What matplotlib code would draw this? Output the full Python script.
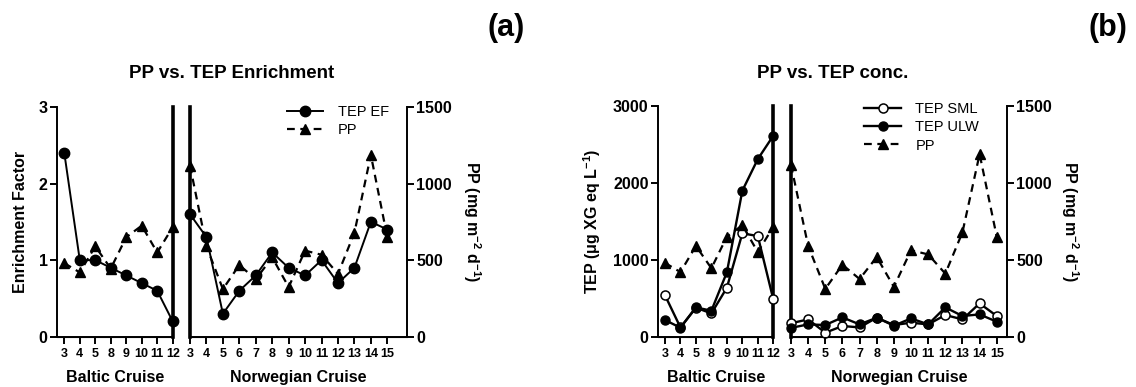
import matplotlib
matplotlib.use('Agg')
import matplotlib.pyplot as plt

plt.rcParams['font.family'] = ['Liberation Sans', 'DejaVu Sans']
plt.rcParams['mathtext.fontset'] = 'custom'
plt.rcParams['mathtext.rm'] = 'Liberation Sans:bold'
plt.rcParams['mathtext.bf'] = 'Liberation Sans:bold'
plt.rcParams['mathtext.it'] = 'Liberation Sans:bold'
plt.rcParams['mathtext.default'] = 'bf'

# ---------------- data ----------------
baltic_labels = ['3', '4', '5', '8', '9', '10', '11', '12']
norwegian_labels = ['3', '4', '5', '6', '7', '8', '9', '10', '11', '12', '13', '14', '15']

ef_baltic = [2.4, 1.0, 1.0, 0.9, 0.8, 0.7, 0.6, 0.2]
ef_norwegian = [1.6, 1.3, 0.3, 0.6, 0.8, 1.1, 0.9, 0.8, 1.0, 0.7, 0.9, 1.5, 1.4]

pp_baltic = [480, 420, 590, 445, 650, 725, 550, 715]
pp_norwegian = [1117, 590, 311, 468, 375, 518, 324, 562, 535, 410, 679, 1187, 650]

tep_sml_baltic = [540, 120, 377, 303, 637, 1344, 1309, 485]
tep_ulw_baltic = [217, 117, 381, 338, 837, 1899, 2310, 2614]
tep_sml_norwegian = [175, 225, 52, 139, 121, 247, 152, 182, 160, 282, 225, 433, 269]
tep_ulw_norwegian = [115, 160, 152, 251, 160, 247, 143, 238, 160, 381, 269, 290, 195]

# ---------------- figure ----------------
W, H = 1136, 387
fig = plt.figure(figsize=(W / 100, H / 100), dpi=100)


def px_axes(x0, x1, ytop, ybot):
    return fig.add_axes([x0 / W, (H - ybot) / H, (x1 - x0) / W, (ybot - ytop) / H])


TICKFS = 9
YTICKFS = 11.5
LABFS = 11.5
SPINE_W = 1.4
THICK_W = 2.6


def style_axis(ax, labels, xlim, left_spine, right_spine):
    ax.set_xlim(*xlim)
    ax.set_xticks(range(len(labels)))
    ax.set_xticklabels(labels, fontsize=TICKFS, fontweight='bold')
    ax.spines['top'].set_visible(False)
    ax.spines['bottom'].set_linewidth(SPINE_W)
    ax.tick_params(axis='x', direction='out', length=5, width=SPINE_W, pad=3)
    for side, mode in (('left', left_spine), ('right', right_spine)):
        sp = ax.spines[side]
        if mode == 'none':
            sp.set_visible(False)
        elif mode == 'thick':
            sp.set_linewidth(THICK_W)
        else:
            sp.set_linewidth(SPINE_W)


def panel(xb0, xb1, xn0, xn1, ytop, ybot, xlim_b, xlim_n, left_max, left_ticks,
          left_series, pp_b, pp_n, ylabel, title, legend_items,
          leg_anchor, panel_tag, tag_x, ylab_x, rlab_x):
    axb = px_axes(xb0, xb1, ytop, ybot)
    axn = px_axes(xn0, xn1, ytop, ybot)
    style_axis(axb, baltic_labels, xlim_b, 'normal', 'thick')
    style_axis(axn, norwegian_labels, xlim_n, 'thick', 'none')
    for ax in (axb, axn):
        ax.set_ylim(0, left_max)
    axb.set_yticks(left_ticks)
    axb.set_yticklabels([str(t) for t in left_ticks], fontsize=YTICKFS, fontweight='bold')
    axb.tick_params(axis='y', direction='out', length=5, width=SPINE_W, pad=2)
    axn.set_yticks([])

    handles = []
    for (vals_b, vals_n, kw) in left_series:
        axb.plot(range(len(vals_b)), vals_b, clip_on=False, zorder=5, **kw)
        h, = axn.plot(range(len(vals_n)), vals_n, clip_on=False, zorder=5, **kw)
        handles.append(h)

    ppkw = dict(color='black', lw=1.6, ls=(0, (3.5, 2.5)), marker='^', ms=7.5)
    tb = axb.twinx()
    tn = axn.twinx()
    for t in (tb, tn):
        t.set_ylim(0, 1500)
        t.spines['top'].set_visible(False)
        t.spines['left'].set_visible(False)
        t.patch.set_visible(False)
    tb.spines['right'].set_visible(False)
    tb.set_yticks([])
    tn.spines['right'].set_linewidth(SPINE_W)
    tn.set_yticks([0, 500, 1000, 1500])
    tn.set_yticklabels(['0', '500', '1000', '1500'], fontsize=YTICKFS, fontweight='bold')
    tn.tick_params(axis='y', direction='out', length=5, width=SPINE_W, pad=2)
    tb.plot(range(len(pp_b)), pp_b, clip_on=False, zorder=4, **ppkw)
    h, = tn.plot(range(len(pp_n)), pp_n, clip_on=False, zorder=4, **ppkw)
    handles.append(h)

    axb.set_xlabel('Baltic Cruise', fontsize=LABFS, fontweight='bold', labelpad=7)
    axn.set_xlabel('Norwegian Cruise', fontsize=LABFS, fontweight='bold', labelpad=7)

    fig.text(ylab_x / W, (H - (ytop + ybot) / 2) / H, ylabel, rotation=90,
             ha='center', va='center', fontsize=LABFS, fontweight='bold')
    fig.text(rlab_x / W, (H - (ytop + ybot) / 2) / H, r'PP (mg m$^{-2}$ d$^{-1}$)',
             rotation=270, ha='center', va='center', fontsize=LABFS, fontweight='bold')
    fig.text(((xb0 + xn1) / 2) / W, (H - 73) / H, title, ha='center', va='center',
             fontsize=13.5, fontweight='bold')
    fig.text(tag_x / W, (H - 28) / H, panel_tag, ha='center', va='center',
             fontsize=22, fontweight='bold')

    tn.legend(handles, legend_items, loc='upper right', bbox_to_anchor=leg_anchor,
              bbox_transform=fig.transFigure, frameon=False, fontsize=10.5,
              handlelength=2.5, handletextpad=1.0, labelspacing=0.3, borderaxespad=0)


# Panel (a)
ef_kw = dict(color='black', lw=1.4, marker='o', ms=7.5)
panel(57.3, 172.7, 190, 406.7, 107, 336.7, (-0.452, 7), (0, 13.18),
      3, [0, 1, 2, 3],
      [(ef_baltic, ef_norwegian, ef_kw)], pp_baltic, pp_norwegian,
      'Enrichment Factor', 'PP vs. TEP Enrichment', ['TEP EF', 'PP'],
      (395 / W, (H - 99) / H), '(a)', 506, 21, 472)

# Panel (b)
sml_kw = dict(color='black', lw=1.7, marker='o', ms=6.5, mfc='white', mew=1.1)
ulw_kw = dict(color='black', lw=1.7, marker='o', ms=6.5)
panel(658.3, 773.3, 791, 1006.7, 106, 336.7, (-0.43, 7), (0, 12.58),
      3000, [0, 1000, 2000, 3000],
      [(tep_sml_baltic, tep_sml_norwegian, sml_kw),
       (tep_ulw_baltic, tep_ulw_norwegian, ulw_kw)], pp_baltic, pp_norwegian,
      'TEP (μg XG eq L$^{-1}$)', 'PP vs. TEP conc.',
      ['TEP SML', 'TEP ULW', 'PP'],
      (985 / W, (H - 96) / H), '(b)', 1108, 592, 1070)

fig.savefig('out.png', dpi=100)
